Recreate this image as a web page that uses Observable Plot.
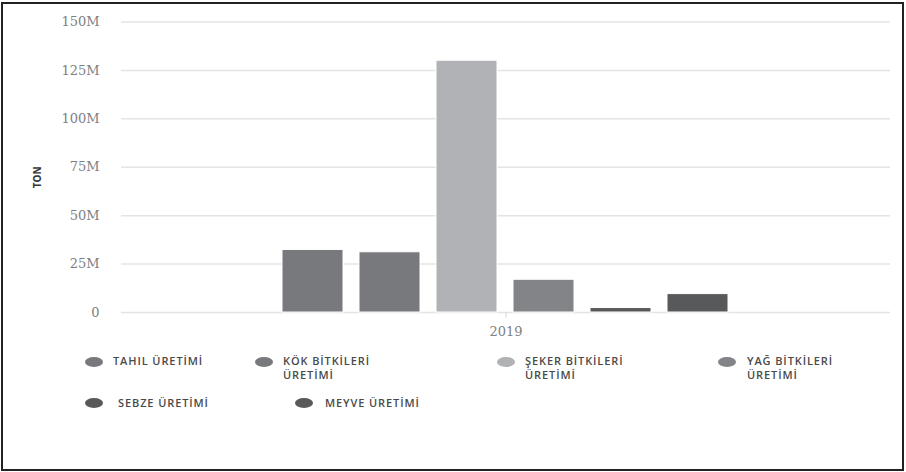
<!DOCTYPE html>
<html>
<head>
<meta charset="utf-8">
<script src="https://cdn.jsdelivr.net/npm/d3@7"></script>
<script src="https://cdn.jsdelivr.net/npm/@observablehq/plot@0.6"></script>
<style>
  html, body { margin: 0; padding: 0; background: #fff; }
  #page { position: relative; width: 906px; height: 472px; overflow: hidden; background: #fff; }
  #frame { position: absolute; left: 1px; top: 2px; width: 899px; height: 465px; border: 2px solid #222; pointer-events: none; }
  #chart { position: absolute; left: 0; top: 0; }
  .item { position: absolute; font-family: "Open Sans", sans-serif; font-size: 11px; font-weight: 600; letter-spacing: 0.9px; color: #4a4a4a; line-height: 14px; width: 130px; }
  .dot { position: absolute; width: 18px; height: 10px; border-radius: 50%; }
</style>
</head>
<body>
<div id="page">
  <div id="chart"></div>
  <div id="legend"></div>
  <div id="frame"></div>
</div>
<script>
const years = ["2019"];
const categories = ["TAHIL ÜRETİMİ", "KÖK BİTKİLERİ ÜRETİMİ", "ŞEKER BİTKİLERİ ÜRETİMİ", "YAĞ BİTKİLERİ ÜRETİMİ", "SEBZE ÜRETİMİ", "MEYVE ÜRETİMİ"];
const values = [32.3e6, 31.1e6, 130.0e6, 16.9e6, 2.3e6, 9.5e6];
const colors = ["#78797d", "#78797d", "#b1b2b5", "#838488", "#58595b", "#58595b"];
const yTicks = [0, 25e6, 50e6, 75e6, 100e6, 125e6, 150e6];
const yLabel = "TON";

const data = categories.map((c, i) => ({year: years[0], cat: c, value: values[i]}));

const chart = Plot.plot({
  width: 906,
  height: 345,
  marginLeft: 121,
  marginRight: 16,
  marginTop: 21.5,
  marginBottom: 33,
  style: {background: "transparent", overflow: "visible"},
  fx: {domain: years, padding: 0, axis: null},
  x: {domain: categories, paddingInner: 0.206, paddingOuter: 2.08, axis: null},
  y: {domain: [0, 150e6], ticks: yTicks},
  color: {domain: categories, range: colors},
  marks: [
    Plot.gridY(yTicks, {stroke: "#e4e4e4", strokeOpacity: 1, strokeWidth: 1.5}),
    Plot.barY(data, {fx: "year", x: "cat", y: "value", fill: "cat", stroke: "white", strokeWidth: 1}),
    Plot.axisY(yTicks, {
      tickSize: 0, tickPadding: 22, label: null,
      tickFormat: d => d === 0 ? "0" : (d / 1e6) + "M",
      fontFamily: "DejaVu Serif", fontSize: 13, fill: "#808080", letterSpacing: "1.6px"
    }),
    Plot.axisFx({
      anchor: "bottom", tickSize: 6, tickPadding: 8, label: null, stroke: "#d8d8d8",
      fontFamily: "DejaVu Serif", fontSize: 13, fill: "#808080", letterSpacing: "1.6px"
    }),
    Plot.text([yLabel], {
      text: d => d, frameAnchor: "left", rotate: -90, dx: -84, dy: 21,
      fontFamily: "Open Sans", fontWeight: 700, fontSize: 10, fill: "#333"
    })
  ]
});
document.getElementById("chart").appendChild(chart);

// Legend (HTML, below the plot area)
const legendPos = [
  {dot: [85, 357], text: [113, 354]},
  {dot: [255, 357], text: [283, 354]},
  {dot: [497, 357], text: [525, 354]},
  {dot: [718, 357], text: [747, 354]},
  {dot: [85, 398], text: [118, 396]},
  {dot: [295, 398], text: [325, 396]}
];
const legend = document.getElementById("legend");
categories.forEach((c, i) => {
  const p = legendPos[i];
  const dot = document.createElement("div");
  dot.className = "dot";
  dot.style.left = p.dot[0] + "px";
  dot.style.top = p.dot[1] + "px";
  dot.style.background = colors[i];
  legend.appendChild(dot);
  const t = document.createElement("div");
  t.className = "item";
  t.style.left = p.text[0] + "px";
  t.style.top = p.text[1] + "px";
  t.textContent = c;
  legend.appendChild(t);
});
</script>
</body>
</html>
